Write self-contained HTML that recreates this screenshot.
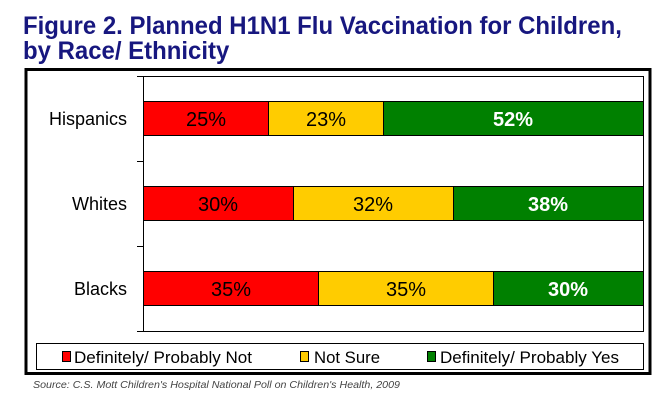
<!DOCTYPE html>
<html><head><style>
body{margin:0;width:671px;height:412px;background:#fff;position:relative;overflow:hidden;font-family:"Liberation Sans",Arial,sans-serif}
.t{position:absolute;left:23px;top:14px;font-size:25px;font-weight:bold;color:#17177f;line-height:25px;white-space:nowrap;transform:scaleX(0.958);transform-origin:0 0}
</style></head><body>
<div class="t">Figure 2. Planned H1N1 Flu Vaccination for Children,<br>by Race/ Ethnicity</div>
<svg width="671" height="412" style="position:absolute;left:0;top:0" font-family="Liberation Sans, Arial, sans-serif">
<rect x="26" y="69.5" width="624" height="304" fill="none" stroke="#000" stroke-width="3"/>
<line x1="137" y1="76.5" x2="643.5" y2="76.5" stroke="#000"/>
<line x1="137" y1="331.5" x2="643.5" y2="331.5" stroke="#000"/>
<line x1="643.5" y1="76" x2="643.5" y2="332" stroke="#000"/>
<line x1="143.5" y1="76" x2="143.5" y2="332" stroke="#000"/>
<line x1="137" y1="161.5" x2="143" y2="161.5" stroke="#000"/>
<line x1="137" y1="246.5" x2="143" y2="246.5" stroke="#000"/>
<g stroke="#000" stroke-width="1">
<rect x="143.5" y="101.5" width="125" height="34" fill="#ff0000"/>
<rect x="268.5" y="101.5" width="115" height="34" fill="#ffcc00"/>
<rect x="383.5" y="101.5" width="260" height="34" fill="#008000"/>
<rect x="143.5" y="186.5" width="150" height="34" fill="#ff0000"/>
<rect x="293.5" y="186.5" width="160" height="34" fill="#ffcc00"/>
<rect x="453.5" y="186.5" width="190" height="34" fill="#008000"/>
<rect x="143.5" y="271.5" width="175" height="34" fill="#ff0000"/>
<rect x="318.5" y="271.5" width="175" height="34" fill="#ffcc00"/>
<rect x="493.5" y="271.5" width="150" height="34" fill="#008000"/>
</g>
<g font-size="20" text-anchor="middle">
<text x="206" y="126">25%</text><text x="326" y="126">23%</text><text x="513" y="126" fill="#fff" font-weight="bold">52%</text>
<text x="218" y="211">30%</text><text x="373" y="211">32%</text><text x="548" y="211" fill="#fff" font-weight="bold">38%</text>
<text x="231" y="296">35%</text><text x="406" y="296">35%</text><text x="568" y="296" fill="#fff" font-weight="bold">30%</text>
</g>
<g font-size="18" text-anchor="end">
<text x="127" y="125">Hispanics</text>
<text x="127" y="210">Whites</text>
<text x="127" y="295">Blacks</text>
</g>
<rect x="36.5" y="343.5" width="607" height="26" fill="none" stroke="#000"/>
<g font-size="17">
<rect x="62.5" y="351.5" width="8" height="10" fill="#ff0000" stroke="#000"/><text x="74" y="363" textLength="178" lengthAdjust="spacingAndGlyphs">Definitely/ Probably Not</text>
<rect x="300.5" y="351.5" width="8" height="10" fill="#ffcc00" stroke="#000"/><text x="314" y="363" textLength="66" lengthAdjust="spacingAndGlyphs">Not Sure</text>
<rect x="427.5" y="351.5" width="8" height="10" fill="#008000" stroke="#000"/><text x="440" y="363" textLength="179" lengthAdjust="spacingAndGlyphs">Definitely/ Probably Yes</text>
</g>
<text x="33" y="388" font-size="10.5" font-style="italic" fill="#444" textLength="367" lengthAdjust="spacingAndGlyphs">Source: C.S. Mott Children's Hospital National Poll on Children's Health, 2009</text>
</svg>
</body></html>
